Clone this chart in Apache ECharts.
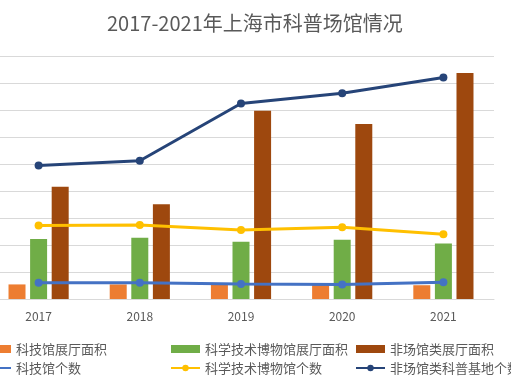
<!DOCTYPE html>
<html><head><meta charset="utf-8">
<script src="https://cdn.jsdelivr.net/npm/echarts@6/dist/echarts.min.js"></script>
<style>html,body{margin:0;padding:0;background:#fff;overflow:hidden;width:511px;height:385px}#c{position:absolute;left:-30px;top:0;width:541px;height:385px}</style>
</head><body><div id="c"></div>
<script>
const titleText = '2017-2021年上海市科普场馆情况';
const years = ['2017','2018','2019','2020','2021'];
const kjgArea = [5.4, 5.4, 5.2, 5.2, 5.1];
const kxjsArea = [22.2, 22.7, 21.2, 21.9, 20.6];
const fcgArea = [41.6, 35.1, 69.7, 64.8, 83.7];
const kjgCount = [30, 30, 28, 27, 31];
const kxjsCount = [136, 137, 128, 133, 120];
const fcgCount = [247, 256, 362, 381, 410];

const font = 'Noto Sans CJK SC';
const chart = echarts.init(document.getElementById('c'));
const legendBase = {
  orient: 'vertical', top: 336, height: 60, itemWidth: 29, itemHeight: 8, itemGap: 3,
  textStyle: { color: '#595959', fontSize: 13, lineHeight: 16, fontFamily: font }
};
chart.setOption({
  animation: false,
  textStyle: { fontFamily: font },
  title: { text: titleText, left: 132, top: 8,
    textStyle: { color: '#595959', fontSize: 20, fontWeight: 'normal', fontFamily: font } },
  legend: [
    Object.assign({}, legendBase, { left: 6, data: [{name:'科技馆展厅面积', icon:'rect'}, '科技馆个数'] }),
    Object.assign({}, legendBase, { left: 195, data: [{name:'科学技术博物馆展厅面积', icon:'rect'}, '科学技术博物馆个数'] }),
    Object.assign({}, legendBase, { left: 380, data: [{name:'非场馆类展厅面积', icon:'rect'}, '非场馆类科普基地个数'] })
  ],
  grid: { left: 18, right: 17, top: 56, bottom: 86, containLabel: false },
  xAxis: {
    type: 'category', data: years,
    axisLine: { lineStyle: { color: '#d9d9d9' } },
    axisTick: { show: false },
    axisLabel: { color: '#595959', fontSize: 12, margin: 11 }
  },
  yAxis: [
    { type: 'value', min: 0, max: 90, interval: 10,
      axisLabel: { show: false }, axisLine: { show: false }, axisTick: { show: false },
      splitLine: { lineStyle: { color: '#d9d9d9', width: 1 } } },
    { type: 'value', min: 0, max: 450, interval: 50,
      axisLabel: { show: false }, axisLine: { show: false }, axisTick: { show: false },
      splitLine: { show: false } }
  ],
  series: [
    { name: '科技馆展厅面积', type: 'bar', data: kjgArea, barWidth: 17, barGap: '27%', itemStyle: { color: '#ED7D31' } },
    { name: '科学技术博物馆展厅面积', type: 'bar', data: kxjsArea, barWidth: 17, barGap: '27%', itemStyle: { color: '#70AD47' } },
    { name: '非场馆类展厅面积', type: 'bar', data: fcgArea, barWidth: 17, barGap: '27%', itemStyle: { color: '#9E480E' } },
    { name: '科技馆个数', type: 'line', yAxisIndex: 1, data: kjgCount, symbol: 'circle', symbolSize: 8,
      lineStyle: { color: '#4472C4', width: 3 }, itemStyle: { color: '#4472C4' } },
    { name: '科学技术博物馆个数', type: 'line', yAxisIndex: 1, data: kxjsCount, symbol: 'circle', symbolSize: 8,
      lineStyle: { color: '#FFC000', width: 3 }, itemStyle: { color: '#FFC000' } },
    { name: '非场馆类科普基地个数', type: 'line', yAxisIndex: 1, data: fcgCount, symbol: 'circle', symbolSize: 8,
      lineStyle: { color: '#264478', width: 3 }, itemStyle: { color: '#264478' } }
  ]
});
</script></body></html>
